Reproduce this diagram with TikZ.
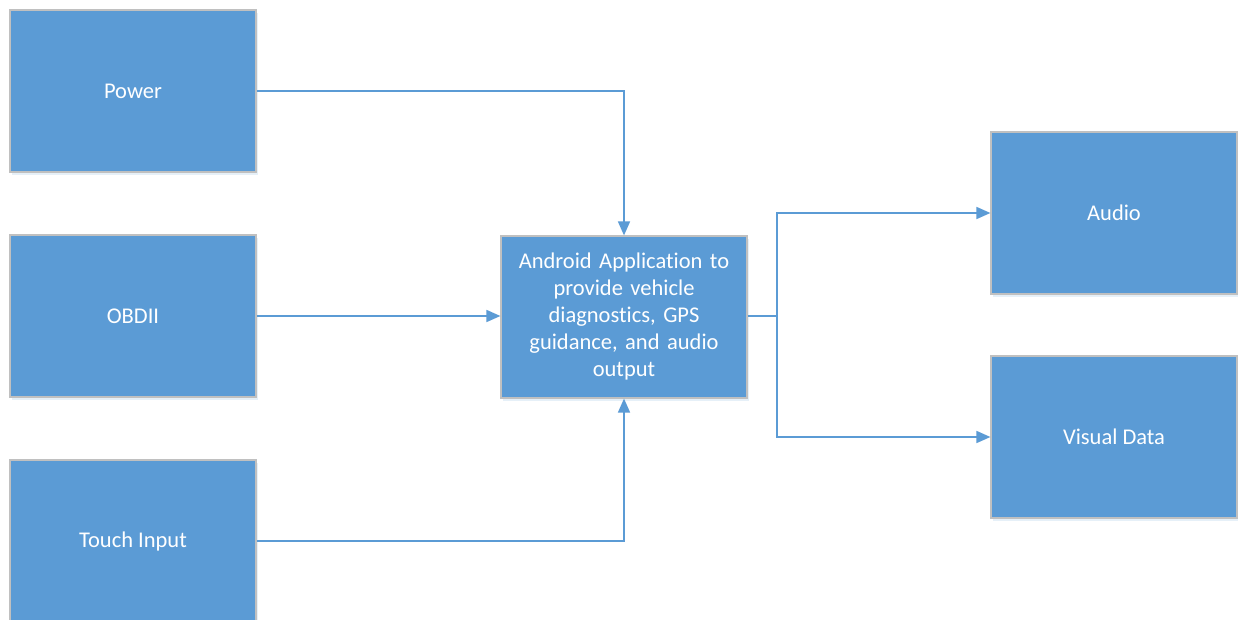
\documentclass[tikz,border=0pt]{standalone}
\usepackage{fontspec}
\setmainfont{Carlito}[Ligatures=NoCommon]
\usetikzlibrary{arrows.meta,shadows}
\definecolor{boxblue}{HTML}{5B9BD5}
\definecolor{boxedge}{HTML}{C0C0C0}
\begin{document}
\begin{tikzpicture}[x=1pt,y=-1pt,
  blk/.style={draw=boxedge, line width=1.2pt, fill=boxblue, minimum width=246pt, minimum height=162pt,
    inner sep=0pt, text=white, font=\fontsize{22.5}{27}\selectfont, align=center,
    drop shadow={shadow xshift=2pt, shadow yshift=-3pt, fill=boxblue!25, opacity=0.6}},
  conn/.style={draw=boxblue, line width=1.6pt, -{Triangle[length=14pt,width=12pt]}}]
\useasboundingbox (0,0) rectangle (1238,620);
\fill[white] (0,0) rectangle (1238,620);
\node[blk] (power) at (133,91) {Power};
\node[blk] (obd) at (133,316) {OBDII};
\node[blk] (touch) at (133,541) {Touch Input};
\node[blk, text width=236pt] (app) at (624,317) {Android Application to\\provide vehicle\\diagnostics, GPS\\guidance, and audio\\output};
\node[blk] (audio) at (1114,213) {Audio};
\node[blk] (visual) at (1114,437) {Visual Data};
\coordinate (split) at (777,316);
\draw[conn] (power.east) -| (app.north);
\draw[conn] (obd.east) -- (app.west |- obd.east);
\draw[conn] (touch.east) -| (app.south);
\draw[draw=boxblue, line width=1.6pt] (app.east |- split) -- (split);
\draw[conn] (split) |- (audio.west);
\draw[conn] (split) |- (visual.west);
\end{tikzpicture}
\end{document}
